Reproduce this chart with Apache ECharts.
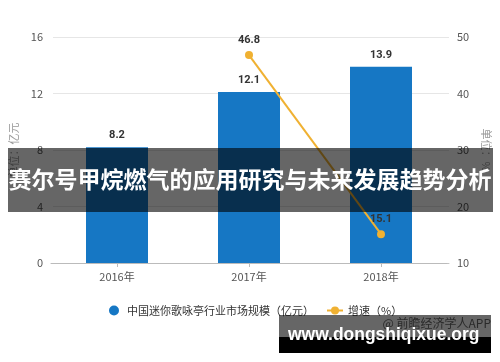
<!DOCTYPE html>
<html>
<head>
<meta charset="utf-8">
<script src="https://cdn.jsdelivr.net/npm/echarts@6/dist/echarts.min.js"></script>
<style>
html,body{margin:0;padding:0;background:#fff;}
#c{width:500px;height:362px;}
</style>
</head>
<body>
<div id="c"></div>
<script>
const categories = ['2016年', '2017年', '2018年'];
const marketSize = [8.2, 12.1, 13.9];
const growth = [null, 46.8, 15.1];
const leftTicks = [0, 4, 8, 12, 16];
const rightTicks = [10, 20, 30, 40, 50];
const seriesNames = ['中国迷你歌咏亭行业市场规模（亿元）', '增速（%）'];
const bannerText = '赛尔号甲烷燃气的应用研究与未来发展趋势分析';
const siteText = 'www.dongshiqixue.org';
const sourceText = '@ 前瞻经济学人APP';

const FONT = '"Noto Sans CJK SC", "Noto Sans", sans-serif';
const chart = echarts.init(document.getElementById('c'), null, {renderer: 'canvas'});

const axisLabelStyle = {color: '#555', fontSize: 11, fontFamily: FONT};

const option = {
  backgroundColor: '#fff',
  animation: false,
  textStyle: {fontFamily: FONT},
  grid: [
    {left: 43, right: 45, top: 37, bottom: 99},
    {left: 51, right: 53, top: 37, bottom: 99}
  ],
  xAxis: [
    {gridIndex: 0, type: 'value', min: 0, max: 1, show: true,
      axisLine: {show: true, lineStyle: {color: '#c4c4c4'}}, axisTick: {show: false}, axisLabel: {show: false}, splitLine: {show: false}},
    {
      gridIndex: 1, type: 'category', data: categories,
      axisLine: {show: true, lineStyle: {color: '#bbb'}},
      axisTick: {show: true, alignWithLabel: true, length: 4, lineStyle: {color: '#bbb'}},
      axisLabel: {color: '#555', fontSize: 11, fontFamily: FONT, margin: 8}
    }
  ],
  yAxis: [
    {
      gridIndex: 0, type: 'value', min: leftTicks[0], max: leftTicks[leftTicks.length - 1], interval: 4,
      position: 'left',
      name: '单位：亿元', nameLocation: 'middle', nameGap: 34, nameRotate: 90,
      nameTextStyle: {color: '#999', fontSize: 11, fontFamily: FONT},
      axisLine: {show: false}, axisTick: {show: false},
      axisLabel: Object.assign({margin: 10}, axisLabelStyle),
      splitLine: {show: true, lineStyle: {color: '#e6e6e6'}}
    },
    {
      gridIndex: 0, type: 'value', min: rightTicks[0], max: rightTicks[rightTicks.length - 1], interval: 10,
      position: 'right',
      name: '单位：%', nameLocation: 'middle', nameGap: 32, nameRotate: -90,
      nameTextStyle: {color: '#999', fontSize: 11, fontFamily: FONT},
      axisLine: {show: false}, axisTick: {show: false},
      axisLabel: Object.assign({margin: 8}, axisLabelStyle),
      splitLine: {show: false}
    },
    {gridIndex: 1, type: 'value', min: leftTicks[0], max: leftTicks[leftTicks.length - 1], show: false, splitLine: {show: false}},
    {gridIndex: 1, type: 'value', min: rightTicks[0], max: rightTicks[rightTicks.length - 1], show: false, splitLine: {show: false}}
  ],
  legend: {
    left: 104, top: 300,
    itemGap: 12, itemWidth: 16, itemHeight: 10,
    textStyle: {color: '#333', fontSize: 11, fontFamily: FONT},
    data: [
      {name: seriesNames[0], icon: 'circle'},
      {name: seriesNames[1]}
    ]
  },
  series: [
    {
      name: seriesNames[0], type: 'bar', xAxisIndex: 1, yAxisIndex: 2,
      data: marketSize, barWidth: 62,
      itemStyle: {color: '#1677c4'},
      label: {show: true, position: 'top', distance: 6, color: '#333', fontWeight: 'bold', fontSize: 11, fontFamily: 'Roboto, sans-serif'}
    },
    {
      name: seriesNames[1], type: 'line', xAxisIndex: 1, yAxisIndex: 3,
      data: growth, symbol: 'circle', symbolSize: 8,
      itemStyle: {color: '#f0b132'},
      lineStyle: {color: '#f0b132', width: 2},
      label: {show: true, position: 'top', distance: 5, color: '#333', fontWeight: 'bold', fontSize: 11, fontFamily: 'Roboto, sans-serif'}
    }
  ],
  graphic: [
    {type: 'rect', left: 8, top: 148, shape: {width: 485, height: 64}, style: {fill: 'rgba(0,0,0,0.6)'}, z: 100},
    {type: 'text', left: 'center', top: 168, style: {text: bannerText, fill: '#fff', font: 'bold 23px "Noto Sans CJK SC", sans-serif'}, z: 101},
    {type: 'rect', left: 279, top: 315, shape: {width: 212, height: 22}, style: {fill: 'rgba(0,0,0,0.6)'}, z: 100},
    {type: 'rect', left: 279, top: 337, shape: {width: 212, height: 16}, style: {fill: '#000'}, z: 100},
    {type: 'text', right: 9, top: 317, style: {text: sourceText, fill: '#2a2a2a', font: '12px "Noto Sans CJK SC", sans-serif'}, z: 101},
    {type: 'text', x: 288, y: 326, scaleX: 0.97, style: {text: siteText, fill: '#fff', font: 'bold 18px "Liberation Sans", sans-serif'}, z: 102}
  ]
};
chart.setOption(option);
</script>
</body>
</html>
